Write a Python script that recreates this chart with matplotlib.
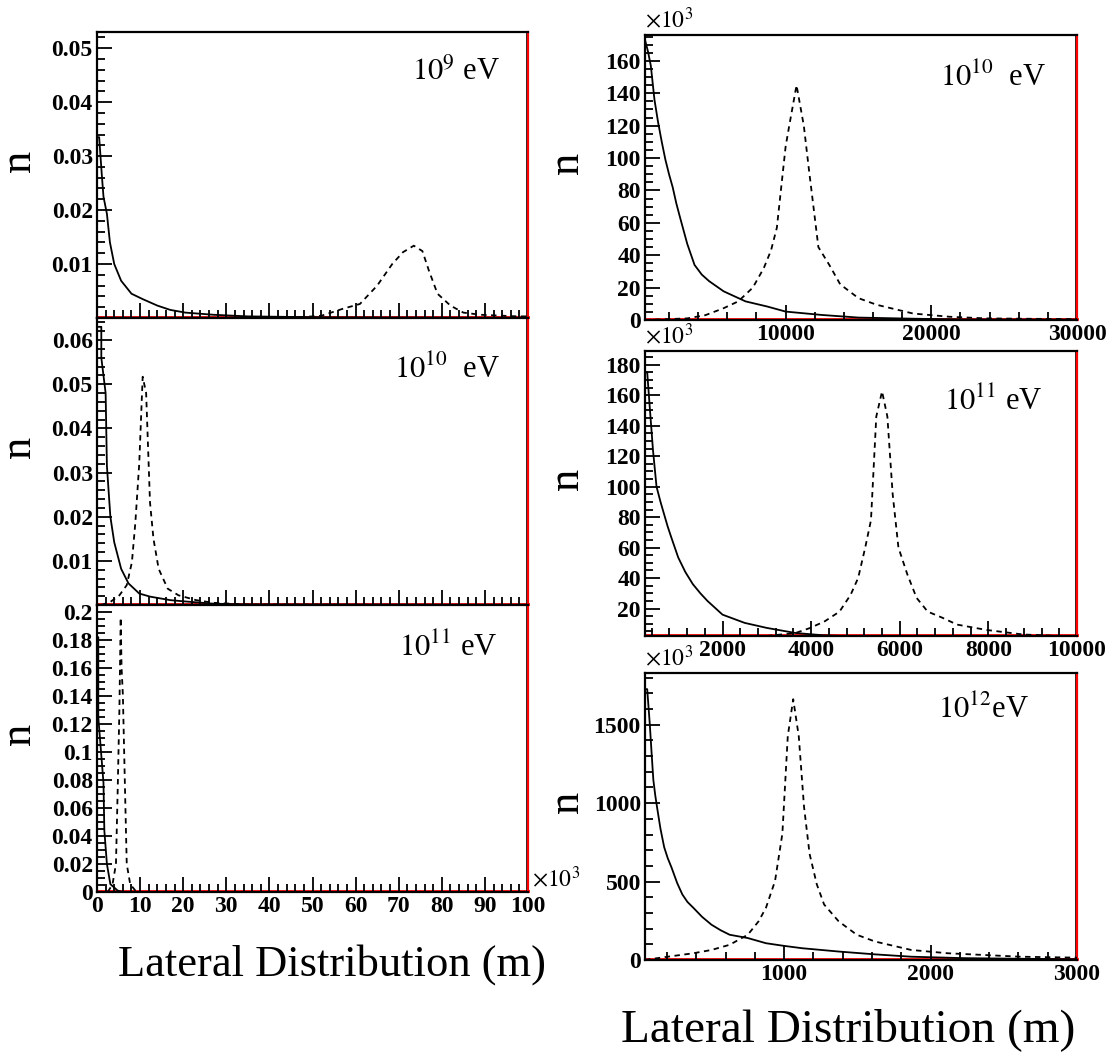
import matplotlib
matplotlib.use('Agg')
import matplotlib.pyplot as plt
from matplotlib.ticker import FixedLocator, MultipleLocator, FuncFormatter

plt.rcParams['font.family'] = 'serif'
plt.rcParams['font.serif'] = ['Liberation Serif', 'DejaVu Serif']
plt.rcParams['mathtext.fontset'] = 'stix'

# ---- left column, x in units of 10^3 m ----
a_sol_x = [0, 0.5, 1.1, 1.5, 2.3, 3.0, 4.0, 5.6, 8.0, 10.6, 14.0, 17.0, 20.5, 27.0, 35.0, 45.0, 55.0, 100.0]
a_sol_y = [0.0335, 0.0335, 0.0267, 0.0225, 0.0193, 0.0140, 0.0100, 0.0069, 0.0045, 0.0035, 0.0023, 0.0015,
           0.0010, 0.0006, 0.0003, 0.0002, 0.0001, 0.0]
a_dash_x = [40.0, 48.0, 52.0, 57.0, 61.0, 65.0, 68.5, 71.0, 73.5, 75.5, 77.0, 79.0, 82.0, 85.0, 89.0, 97.5, 100.0]
a_dash_y = [0.0, 0.0002, 0.0004, 0.0017, 0.0026, 0.0060, 0.0100, 0.0122, 0.0134, 0.0124, 0.0088, 0.0045,
            0.0023, 0.0010, 0.0006, 0.0003, 0.0003]

b_sol_x = [0, 1.0, 1.0, 2.0, 2.3, 3.1, 4.0, 5.6, 7.3, 9.8, 12.3, 17.0, 20.5, 27.0, 35.0, 100.0]
b_sol_y = [0.0630, 0.0630, 0.0560, 0.0480, 0.0315, 0.0200, 0.0142, 0.0082, 0.0049, 0.0026, 0.0019, 0.0011,
           0.0008, 0.0003, 0.0001, 0.0]
b_dash_x = [1.0, 3.1, 5.2, 6.9, 8.1, 8.9, 9.8, 10.6, 11.4, 12.3, 13.1, 14.3, 16.4, 18.9, 23.0, 27.0, 35.0, 100.0]
b_dash_y = [0.0, 0.0007, 0.0022, 0.0045, 0.0097, 0.0187, 0.0320, 0.0517, 0.0480, 0.0232, 0.0150, 0.0082,
            0.0037, 0.0022, 0.0011, 0.0005, 0.0001, 0.0]

c_sol_x = [0, 0.3, 0.3, 1.5, 1.7, 2.3, 3.1, 4.8, 6.0, 100.0]
c_sol_y = [0.182, 0.182, 0.125, 0.078, 0.044, 0.020, 0.0056, 0.001, 0.0, 0.0]
c_dash_x = [2.5, 3.6, 4.4, 4.8, 5.2, 5.5, 5.7, 6.0, 6.5, 6.9, 7.7, 8.9, 10.0, 100.0]
c_dash_y = [0.0, 0.0055, 0.020, 0.073, 0.131, 0.196, 0.160, 0.141, 0.073, 0.020, 0.0056, 0.001, 0.0, 0.0]

# ---- right column, n in units of 10^3 ----
d_sol_x = [350, 550, 750, 1000, 1250, 1500, 1750, 2000, 2250, 2500, 2750, 3250, 3750, 4250, 4750, 5750,
           7250, 8750, 10000, 12500, 15000, 18750, 22500, 30000]
d_sol_y = [173, 166, 157, 136, 122, 110, 99, 90, 82, 72, 63.5, 47, 34, 28, 24, 17.7, 11.5, 8.3, 5.2, 3.1,
           1.5, 0.8, 0.3, 0.2]
d_dash_x = [350, 3250, 4500, 5750, 6750, 7750, 8500, 9000, 9400, 10000, 10250, 10750, 11250, 11600, 12250,
            13000, 13750, 15000, 16250, 18750, 21250, 23750, 30000]
d_dash_y = [0, 1, 3, 7.3, 11.5, 20, 32, 43, 57, 107, 120, 145, 120, 93, 45, 34, 22, 13.5, 9.4, 4, 2, 1, 0.5]

e_sol_x = [250, 300, 350, 430, 510, 600, 680, 760, 840, 1000, 1160, 1330, 1500, 1660, 2000, 2500, 3000,
           3640, 4300, 5300, 7000, 10000]
e_sol_y = [175, 175, 155, 124, 100, 90, 82, 74, 67, 53.5, 44, 36, 30, 25, 16, 10.6, 7.3, 4, 2.4, 1.5, 1.0,
           1.0]
e_dash_x = [3000, 3650, 3980, 4310, 4640, 4890, 5060, 5220, 5350, 5470, 5600, 5720, 5840, 5970, 6170, 6380,
            6630, 6960, 7290, 7950, 8780, 10000]
e_dash_y = [2, 4, 7.3, 11.7, 18, 29, 40, 60, 78, 146, 162.5, 146, 95, 60, 42.5, 27, 18, 14, 9.5, 6, 3, 1.5]

f_sol_x = [50, 65, 82, 95, 107, 120, 132, 155, 181, 205, 231, 270, 305, 340, 380, 440, 504, 566, 628, 752,
           876, 1000, 1124, 1372, 1620, 1868, 2216, 2600, 3000]
f_sol_y = [1727, 1727, 1513, 1320, 1148, 1050, 976, 840, 719, 650, 590, 490, 418, 370, 333, 275, 225, 190,
           161, 140, 107, 90, 75, 54, 36, 21, 12, 8, 5]
f_dash_x = [50, 82, 206, 380, 504, 628, 752, 826, 876, 938, 988, 1025, 1062, 1100, 1136, 1174, 1223, 1273,
            1372, 1496, 1620, 1868, 2117, 2365, 2613, 3000]
f_dash_y = [0, 5, 21, 43, 64, 97, 161, 247, 333, 504, 805, 1427, 1663, 1427, 976, 676, 483, 354, 247, 161,
            118, 64, 43, 32, 21, 15]

labels = [r'$10^{9}$ eV', r'$10^{10}$  eV', r'$10^{11}$ eV', r'$10^{10}$  eV', r'$10^{11}$ eV', r'$10^{12}$eV']

W, H = 1117, 1059
fig = plt.figure(figsize=(W / 100, H / 100), dpi=100)


def box(x0, y0, x1, y1):
    return [x0 / W, 1 - y1 / H, (x1 - x0) / W, (y1 - y0) / H]


def style(ax):
    for s in ax.spines.values():
        s.set_linewidth(1.6)
    ax.spines['right'].set_color('red')
    ax.tick_params(which='both', direction='in', top=False, right=False, width=1.3, labelsize=17, pad=3)
    ax.tick_params(which='major', length=11)
    ax.tick_params(which='minor', length=6)
    for t in ax.get_xticklabels() + ax.get_yticklabels():
        t.set_fontweight('bold')
    # red baseline just above the bottom frame
    ax.plot([0, 1], [0.004, 0.004], transform=ax.transAxes, color='red', lw=2, clip_on=False, zorder=1)
    ax.plot([0.998, 0.998], [0, 1], transform=ax.transAxes, color='black', lw=1.2, zorder=1)
    ax.set_ylabel('n', fontsize=32)
    ax.yaxis.set_label_coords(-0.135, 0.55)


def draw(ax, sx, sy, dx, dy):
    ax.plot(sx, sy, color='black', lw=1.3, zorder=3)
    ax.plot(dx, dy, color='black', lw=1.3, linestyle=(0, (3, 2.5)), zorder=3)


fmt = FuncFormatter(lambda v, p: '%g' % round(v, 6))

# left column
ax1 = fig.add_axes(box(97, 32, 528, 318))
ax2 = fig.add_axes(box(97, 318, 528, 605))
ax3 = fig.add_axes(box(97, 605, 528, 892))
left = [(ax1, a_sol_x, a_sol_y, a_dash_x, a_dash_y, 0.053, [0.01, 0.02, 0.03, 0.04, 0.05], 0.002),
        (ax2, b_sol_x, b_sol_y, b_dash_x, b_dash_y, 0.065, [0.01, 0.02, 0.03, 0.04, 0.05, 0.06], 0.002),
        (ax3, c_sol_x, c_sol_y, c_dash_x, c_dash_y, 0.205, [0, 0.02, 0.04, 0.06, 0.08, 0.1, 0.12, 0.14,
                                                              0.16, 0.18, 0.2], 0.005)]
for ax, sx, sy, dx, dy, top, yt, ym in left:
    draw(ax, sx, sy, dx, dy)
    ax.set_xlim(0, 100)
    ax.set_ylim(0, top)
    ax.yaxis.set_major_locator(FixedLocator(yt))
    ax.yaxis.set_minor_locator(MultipleLocator(ym))
    ax.yaxis.set_major_formatter(fmt)
    ax.xaxis.set_major_locator(MultipleLocator(10))
    ax.xaxis.set_minor_locator(MultipleLocator(2))
    ax.xaxis.set_major_formatter(fmt)
    if ax is not ax3:
        ax.tick_params(axis='x', labelbottom=False)
    style(ax)

ax3.text(1.01, 0.0, r'$\times10^{3}$', transform=ax3.transAxes, fontsize=17, ha='left', va='bottom')

# right column
ax4 = fig.add_axes(box(645, 35, 1077, 320))
ax5 = fig.add_axes(box(645, 351, 1077, 636))
ax6 = fig.add_axes(box(645, 673, 1077, 960))
right = [(ax4, d_sol_x, d_sol_y, d_dash_x, d_dash_y, (350, 30000), (0, 176), 20, 5,
          [10000, 20000, 30000], 2000),
         (ax5, e_sol_x, e_sol_y, e_dash_x, e_dash_y, (250, 10000), (2, 189), 20, 5,
          [2000, 4000, 6000, 8000, 10000], 400),
         (ax6, f_sol_x, f_sol_y, f_dash_x, f_dash_y, (50, 3000), (0, 1830), 500, 100,
          [1000, 2000, 3000], 200)]
for ax, sx, sy, dx, dy, xl, yl, ymaj, ymin, xt, xm in right:
    draw(ax, sx, sy, dx, dy)
    ax.set_xlim(*xl)
    ax.set_ylim(*yl)
    ax.yaxis.set_major_locator(MultipleLocator(ymaj))
    ax.yaxis.set_minor_locator(MultipleLocator(ymin))
    ax.yaxis.set_major_formatter(fmt)
    ax.xaxis.set_major_locator(FixedLocator(xt))
    ax.xaxis.set_minor_locator(MultipleLocator(xm))
    ax.xaxis.set_major_formatter(fmt)
    style(ax)
    ax.text(0.0, 1.01, r'$\times10^{3}$', transform=ax.transAxes, fontsize=17, ha='left', va='bottom')

fig.text(332 / W, 1 - 965 / H, 'Lateral Distribution (m)', fontsize=32, ha='center', va='center')
fig.text(848 / W, 1 - 1030 / H, 'Lateral Distribution (m)', fontsize=34, ha='center', va='center')

text_pos = [(ax1, 0.935, 0.86), (ax2, 0.935, 0.82), (ax3, 0.93, 0.85),
            (ax4, 0.93, 0.85), (ax5, 0.92, 0.82), (ax6, 0.89, 0.87)]
for (ax, tx, ty), lab in zip(text_pos, labels):
    ax.text(tx, ty, lab, transform=ax.transAxes, fontsize=22, ha='right', va='center')

fig.savefig('out.png', dpi=100)
